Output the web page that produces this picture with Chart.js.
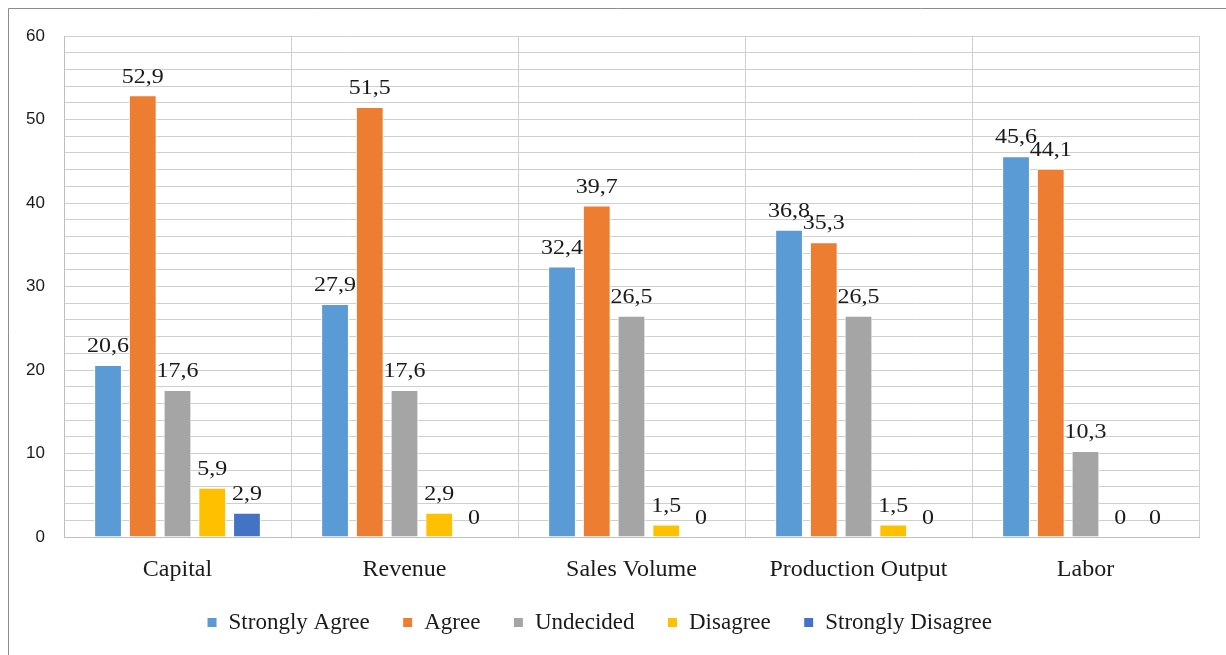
<!DOCTYPE html>
<html>
<head>
<meta charset="utf-8">
<style>
  html, body { margin: 0; padding: 0; background: #ffffff; }
  #wrap { position: relative; width: 1226px; height: 655px; }
  canvas { display: block; }
</style>
<script src="https://cdn.jsdelivr.net/npm/chart.js@4/dist/chart.umd.min.js"></script>
</head>
<body>
<div id="wrap"><canvas id="chart" width="1226" height="655"></canvas></div>
<script>
// Survey factors and response shares (%)
const categories = ['Capital', 'Revenue', 'Sales Volume', 'Production Output', 'Labor'];
const seriesNames = ['Strongly Agree', 'Agree', 'Undecided', 'Disagree', 'Strongly Disagree'];
const stronglyAgree = [20.6, 27.9, 32.4, 36.8, 45.6];
const agree = [52.9, 51.5, 39.7, 35.3, 44.1];
const undecided = [17.6, 17.6, 26.5, 26.5, 10.3];
const disagree = [5.9, 2.9, 1.5, 1.5, 0];
const stronglyDisagree = [2.9, 0, 0, 0, 0];
const yTickLabels = [0, 10, 20, 30, 40, 50, 60];

const palette = ['#5B9BD5', '#ED7D31', '#A5A5A5', '#FFC000', '#4472C4'];
const seriesValues = [stronglyAgree, agree, undecided, disagree, stronglyDisagree];

const serif = '"Liberation Serif", "Times New Roman", serif';
const sans = '"Liberation Sans", Arial, sans-serif';

// Values printed above every bar, decimal comma, slightly widened glyphs
const valueLabels = {
  id: 'valueLabels',
  afterDatasetsDraw(chart) {
    const ctx = chart.ctx;
    const stretch = 1.2;
    chart.data.datasets.forEach((ds, i) => {
      const meta = chart.getDatasetMeta(i);
      meta.data.forEach((bar, j) => {
        const txt = String(ds.data[j]).replace('.', ',');
        ctx.save();
        ctx.font = '20px ' + serif;
        ctx.fillStyle = '#1a1a1a';
        ctx.textAlign = 'center';
        ctx.textBaseline = 'bottom';
        ctx.translate(bar.x, bar.y - 8);
        ctx.scale(stretch, 1);
        ctx.fillText(txt, 0, 0);
        ctx.restore();
      });
    });
  }
};

// Thin frame along the top and left edges
const frame = {
  id: 'frame',
  beforeDraw(chart) {
    const ctx = chart.ctx;
    ctx.save();
    ctx.strokeStyle = '#8c8c8c';
    ctx.lineWidth = 1;
    ctx.beginPath();
    ctx.moveTo(8.5, chart.height);
    ctx.lineTo(8.5, 8.5);
    ctx.lineTo(chart.width, 8.5);
    ctx.stroke();
    ctx.restore();
  }
};

// Nudge the legend row a few pixels upward
const legendLift = {
  id: 'legendLift',
  afterLayout(chart) {
    if (chart.legend) {
      chart.legend.top -= 4;
      chart.legend.bottom -= 4;
    }
  }
};

new Chart(document.getElementById('chart'), {
  type: 'bar',
  data: {
    labels: categories,
    datasets: seriesNames.map((name, i) => ({
      label: name,
      data: seriesValues[i],
      backgroundColor: palette[i],
      borderColor: '#ffffff',
      borderWidth: 1,
      categoryPercentage: 0.765,
      barPercentage: 0.8
    }))
  },
  options: {
    responsive: false,
    animation: false,
    layout: { padding: { top: 36, right: 27, left: 0, bottom: 7 } },
    plugins: {
      legend: {
        position: 'bottom',
        labels: {
          font: { family: serif, size: 23 },
          color: '#1a1a1a',
          boxWidth: 10,
          boxHeight: 10,
          padding: 33
        }
      },
      tooltip: { enabled: false }
    },
    scales: {
      x: {
        grid: { color: '#cfcfcf', lineWidth: 1, drawTicks: false, offset: true },
        border: { color: '#bfbfbf' },
        ticks: {
          font: { family: serif, size: 24 },
          color: '#1a1a1a',
          padding: 18
        },
        afterFit(scale) { scale.height = 45; }
      },
      y: {
        min: 0,
        max: 60,
        grid: { color: '#cfcfcf', lineWidth: 1, drawTicks: false },
        border: { color: '#bfbfbf' },
        ticks: {
          stepSize: 2,
          autoSkip: false,
          font: { family: sans, size: 17 },
          color: '#1a1a1a',
          padding: 19,
          callback(v) { return yTickLabels.includes(v) ? String(v) : ''; }
        },
        afterFit(scale) { scale.width = 64; }
      }
    }
  },
  plugins: [valueLabels, frame, legendLift]
});
</script>
</body>
</html>
